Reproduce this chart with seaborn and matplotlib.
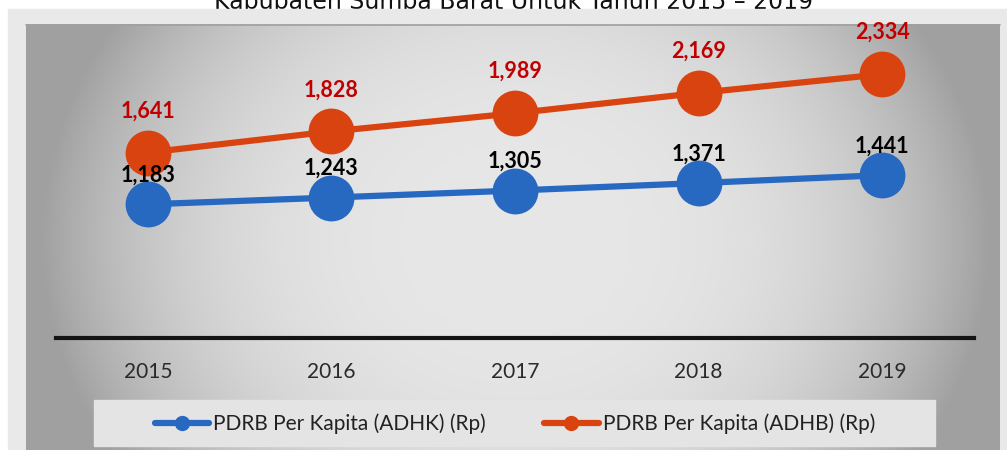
import numpy as np
import pandas as pd
import seaborn as sns
import matplotlib.pyplot as plt
from matplotlib.lines import Line2D
from matplotlib.patches import Rectangle

# data
years = [2015, 2016, 2017, 2018, 2019]
adhk = [1183, 1243, 1305, 1371, 1441]
adhb = [1641, 1828, 1989, 2169, 2334]
series_names = ["PDRB Per Kapita (ADHK) (Rp)", "PDRB Per Kapita (ADHB) (Rp)"]
title = "Kabupaten Sumba Barat Untuk Tahun 2015 \u2013 2019"

blue = "#2768c1"
orange = "#d9430f"

df = pd.DataFrame({
    "Tahun": years * 2,
    "Nilai": adhk + adhb,
    "Seri": [series_names[0]] * len(years) + [series_names[1]] * len(years),
})

sns.set_style("white")
plt.rcParams["font.family"] = ["Lato", "DejaVu Sans"]

W, H = 1007, 450
fig = plt.figure(figsize=(W / 100, H / 100), dpi=100)

# background: white, light frame, grey panel darkening towards the edges
bg = fig.add_axes([0, 0, 1, 1])
bg.set_xlim(0, W)
bg.set_ylim(H, 0)
bg.axis("off")
bg.text(514, 9, title, ha="center", va="baseline", fontsize=17,
        family="DejaVu Sans", color="#111111", zorder=1)
bg.add_patch(Rectangle((8, 9), W - 8, H - 9, color="#e9e9e9", zorder=2))
px, py = np.meshgrid(np.arange(26, 1000), np.arange(24, H))
r = np.sqrt(((px - 515) / 490.0) ** 2 + ((py - 240) / 420.0) ** 2)
shade = np.clip(231 - 78 * r ** 3, 160, 235) / 255.0
rgb = np.dstack([shade, shade, shade])
bg.imshow(rgb, extent=(26, 1000, H, 24), aspect="auto", zorder=3,
          interpolation="bilinear")
bg.plot([26, 1000], [24.5, 24.5], color="#a0a0a0", lw=1.2, zorder=4)
bg.add_patch(Rectangle((94, 400), 841, 46, color="#e4e4e4", zorder=4))

# main plot area
top_px, base_px = 24, 338
ax = fig.add_axes([56 / W, (H - base_px) / H, (974 - 56) / W, (base_px - top_px) / H])
ax.patch.set_visible(False)
sns.lineplot(data=df, x="Tahun", y="Nilai", hue="Seri", palette=[blue, orange],
             marker="o", markersize=33, markeredgewidth=0, linewidth=4.5,
             legend=False, ax=ax)
ax.set_xlim(2014.5, 2019.5)
ax.set_ylim(0, (base_px - top_px) / 0.113)
ax.set_xticks(years)
ax.set_xticklabels([str(y) for y in years], fontsize=15, color="#2a2a2a")
ax.tick_params(axis="x", length=0, pad=17)
ax.set_yticks([])
ax.set_xlabel("")
ax.set_ylabel("")
for s in ["top", "left", "right"]:
    ax.spines[s].set_visible(False)
ax.spines["bottom"].set_color("#141414")
ax.spines["bottom"].set_linewidth(3)

for x, v in zip(years, adhb):
    ax.annotate(f"{v:,}", (x, v), xytext=(0, 30), textcoords="offset points",
                ha="center", va="center", fontsize=15.5, fontweight="bold",
                color="#c00000")
for x, v in zip(years, adhk):
    ax.annotate(f"{v:,}", (x, v), xytext=(0, 21), textcoords="offset points",
                ha="center", va="center", fontsize=15.5, fontweight="bold",
                color="black")

handles = [Line2D([], [], color=c, lw=4.5, marker="o", markersize=10)
           for c in [blue, orange]]
fig.legend(handles, series_names, loc="center", bbox_to_anchor=(515 / W, 1 - 424 / H),
           ncol=2, frameon=False, fontsize=15, handlelength=2.6,
           handletextpad=0.2, columnspacing=2.8, labelcolor="#222222")

fig.savefig("out.png", dpi=100)
